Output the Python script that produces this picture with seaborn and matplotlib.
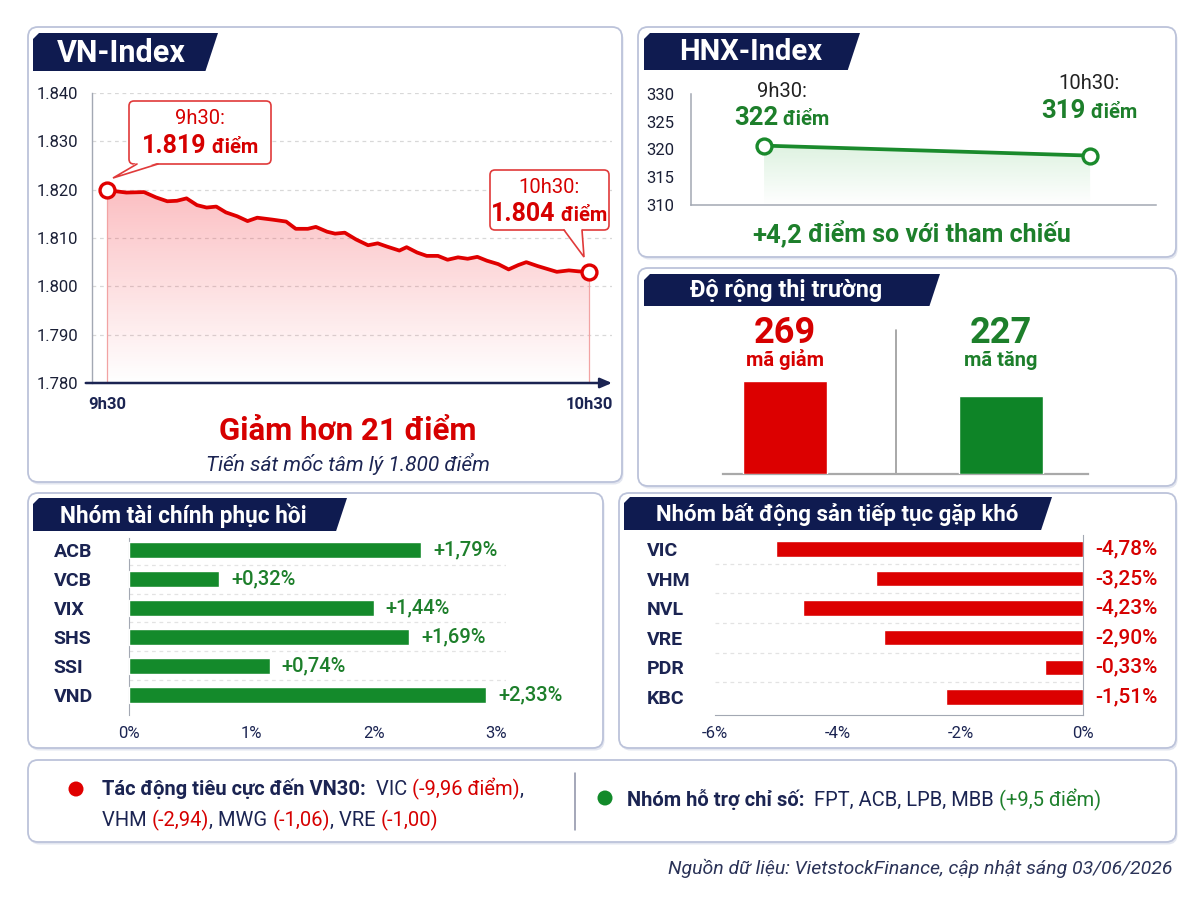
import numpy as np
import matplotlib
matplotlib.use("Agg")
import matplotlib.pyplot as plt
import seaborn as sns
from matplotlib.patches import FancyBboxPatch, Polygon, Circle
from matplotlib.ticker import FuncFormatter

# ---------------- data ----------------
vn_minutes = [0, 2.4, 4.6, 6.1, 7.5, 8.7, 9.9, 11.2, 12.4, 13.6, 14.8, 16.2, 17.5, 18.7, 20.6,
              22.3, 23.5, 25.0, 26.0, 27.4, 28.4, 29.6, 31.0, 32.5, 33.7, 34.9, 36.4, 37.3, 38.6,
              39.8, 41.2, 42.4, 43.7, 44.9, 46.1, 47.3, 48.7, 50.0, 51.2, 52.2, 53.6, 54.8, 56.0,
              57.5, 58.7, 60]
vn_values = [1819.9, 1819.4, 1819.5, 1818.4, 1817.6, 1817.7, 1818.2, 1816.8, 1816.3, 1816.5,
             1815.3, 1814.5, 1813.5, 1814.2, 1813.8, 1813.4, 1811.9, 1811.9, 1812.3, 1811.3,
             1810.9, 1811.1, 1809.7, 1808.5, 1808.9, 1808.2, 1807.4, 1808.1, 1807.0, 1806.3,
             1806.3, 1805.5, 1806.0, 1805.7, 1806.1, 1805.3, 1804.6, 1803.5, 1804.4, 1805.0,
             1804.2, 1803.6, 1803.0, 1803.3, 1803.1, 1803.0]
vn_ticks = [1780, 1790, 1800, 1810, 1820, 1830, 1840]
vn_time_labels = ["9h30", "10h30"]
vn_call_time = ["9h30:", "10h30:"]
vn_call_value = ["1.819", "1.804"]

hnx_pos = [0, 1]
hnx_values = [320.7, 318.9]
hnx_ticks = [310, 315, 320, 325, 330]
hnx_call_time = ["9h30:", "10h30:"]
hnx_call_value = ["322", "319"]

breadth_labels = ["mã giảm", "mã tăng"]
breadth_counts = [269, 227]

fin_codes = ["ACB", "VCB", "VIX", "SHS", "SSI", "VND"]
fin_bars = [2.39, 0.74, 2.00, 2.29, 1.15, 2.92]
fin_text = ["+1,79%", "+0,32%", "+1,44%", "+1,69%", "+0,74%", "+2,33%"]
fin_ticks = [0, 1, 2, 3]

re_codes = ["VIC", "VHM", "NVL", "VRE", "PDR", "KBC"]
re_bars = [-5.01, -3.37, -4.57, -3.24, -0.63, -2.23]
re_text = ["-4,78%", "-3,25%", "-4,23%", "-2,90%", "-0,33%", "-1,51%"]
re_ticks = [-6, -4, -2, 0]

# ---------------- style ----------------
NAVY = "#1b2452"
TAB = "#0f1b50"
RED = "#e00000"
RED_TXT = "#d60000"
GREEN = "#1a8a2c"
GREEN_TXT = "#1d7f2b"
GREY = "#a3a8b3"

sns.set_style("white")
plt.rcParams["font.family"] = ["Roboto", "DejaVu Sans"]

fig = plt.figure(figsize=(12, 9), dpi=100)
fig.patch.set_facecolor("white")
renderer = fig.canvas.get_renderer()

bg = fig.add_axes([0, 0, 1, 1], zorder=0)
bg.set_xlim(0, 1200); bg.set_ylim(900, 0); bg.axis("off")
fg = fig.add_axes([0, 0, 1, 1], zorder=10)
fg.set_xlim(0, 1200); fg.set_ylim(900, 0); fg.axis("off"); fg.set_facecolor("none")


def add_axes_px(x0, y0, x1, y1, z=2):
    ax = fig.add_axes([x0 / 1200, 1 - y1 / 900, (x1 - x0) / 1200, (y1 - y0) / 900], zorder=z)
    ax.set_facecolor("none")
    return ax


def panel(x0, y0, x1, y1):
    bg.add_patch(FancyBboxPatch((x0 + 1.5, y0 + 2.5), x1 - x0, y1 - y0,
                                boxstyle="round,pad=0,rounding_size=10", fc="#e3e6f0", ec="none", zorder=0))
    bg.add_patch(FancyBboxPatch((x0, y0), x1 - x0, y1 - y0,
                                boxstyle="round,pad=0,rounding_size=10", fc="white", ec="#bcc3da", lw=1.3, zorder=1))


def tab(x0, y0, x1, y1, text, tx, fs):
    sl = (y1 - y0) * 0.33
    bg.add_patch(Polygon([(x0, y0 + 6), (x0 + 6, y0), (x1, y0), (x1 - sl, y1), (x0, y1)],
                         closed=True, fc=TAB, ec="none", zorder=3))
    bg.text(tx, (y0 + y1) / 2 + 1, text, color="white", fontsize=fs, fontweight="bold",
            ha="left", va="center", zorder=4)


def rich(axo, x, y, pieces, ha="left", z=30):
    texts = []
    cx = x
    for s, kw in pieces:
        t = axo.text(cx, y, s, va="baseline", ha="left", zorder=z, **kw)
        cx += t.get_window_extent(renderer=renderer).width
        texts.append(t)
    if ha == "center":
        shift = (cx - x) / 2
        for t in texts:
            px, py = t.get_position()
            t.set_position((px - shift, py))
    return texts


# ---------------- panels ----------------
panel(28, 27, 622, 482)
panel(638, 27, 1176, 257)
panel(638, 268, 1176, 486)
panel(28, 493, 603, 748)
panel(619, 493, 1176, 748)
panel(28, 760, 1176, 842)

tab(33, 33, 218, 71, "VN-Index", 57, 22)
tab(644, 33, 860, 70, "HNX-Index", 679, 21)
tab(644, 274, 940, 306, "Độ rộng thị trường", 690, 16.8)
tab(33, 498, 347, 531, "Nhóm tài chính phục hồi", 60, 16.3)
tab(624, 497, 1052, 530, "Nhóm bất động sản tiếp tục gặp khó", 656, 16)

# ---------------- VN-Index ----------------
ax1 = add_axes_px(92, 93, 612, 383)
sns.lineplot(x=vn_minutes, y=vn_values, ax=ax1, color=RED, lw=2.7, zorder=5)
fill = ax1.fill_between(vn_minutes, vn_values, vn_ticks[0], color="none", lw=0)
grad = np.zeros((256, 1, 4))
grad[..., 0] = 0.96; grad[..., 1] = 0.22; grad[..., 2] = 0.26
grad[:, 0, 3] = np.linspace(0.0, 0.32, 256)
im = ax1.imshow(grad, extent=[vn_minutes[0], vn_minutes[-1], vn_ticks[0], max(vn_values)],
                origin="lower", aspect="auto", zorder=2, interpolation="bilinear")
im.set_clip_path(fill.get_paths()[0], transform=ax1.transData)
ax1.vlines([vn_minutes[0], vn_minutes[-1]], vn_ticks[0], [vn_values[0], vn_values[-1]],
           color="#f2a3a3", lw=0.9, zorder=3)
ax1.scatter([vn_minutes[0], vn_minutes[-1]], [vn_values[0], vn_values[-1]], s=115,
            facecolor="white", edgecolor=RED, lw=2.4, zorder=6)
ax1.set_xlim(-1.87, 62.87)
ax1.set_ylim(vn_ticks[0], vn_ticks[-1])
ax1.set_yticks(vn_ticks)
ax1.yaxis.set_major_formatter(FuncFormatter(lambda v, p: f"{v / 1000:.3f}"))
ax1.set_xticks([vn_minutes[0], vn_minutes[-1]])
ax1.set_xticklabels(vn_time_labels, fontweight="bold")
ax1.grid(axis="y", ls=(0, (3, 3)), color="#d8d8d8", lw=0.9)
ax1.grid(axis="x", visible=False)
ax1.set_axisbelow(True)
for s in ["top", "right", "bottom"]:
    ax1.spines[s].set_visible(False)
ax1.spines["left"].set_color(GREY)
ax1.spines["left"].set_linewidth(1.0)
ax1.tick_params(axis="y", length=0, pad=10, labelsize=12, labelcolor="#1a1f36")
ax1.tick_params(axis="x", length=0, pad=10, labelsize=12, labelcolor=NAVY)
ax1.annotate("", xy=(1.0, 0), xytext=(-0.012, 0), xycoords="axes fraction",
             arrowprops=dict(arrowstyle="-|>,head_length=0.7,head_width=0.3", color=NAVY, lw=1.8,
                             shrinkA=0, shrinkB=0), annotation_clip=False)


def callout(x0, y0, x1, y1, a, b, tip):
    fg.add_patch(FancyBboxPatch((x0, y0), x1 - x0, y1 - y0, boxstyle="round,pad=0,rounding_size=5",
                                fc="white", ec="#e03a3a", lw=1.2, zorder=20))
    fg.add_patch(Polygon([(a[0], a[1] - 1.5), tip, (b[0], b[1] - 1.5)], closed=True, fc="white",
                         ec="none", zorder=21))
    fg.plot([a[0], tip[0], b[0]], [a[1], tip[1], b[1]], color="#e03a3a", lw=1.2, zorder=22,
            solid_joinstyle="miter")


callout(129, 101, 271, 164, (137, 164), (158, 164), (113, 178))
callout(490, 170, 609, 230, (564, 230), (582, 230), (584, 257))
for cx, yb1, yb2, tlabel, val in [(200, 124, 153, vn_call_time[0], vn_call_value[0]),
                                  (549, 193, 221, vn_call_time[1], vn_call_value[1])]:
    fg.text(cx, yb1, tlabel, ha="center", va="baseline", color=RED_TXT, fontsize=14.5, zorder=30)
    rich(fg, cx, yb2, [(val, dict(color=RED_TXT, fontsize=18, fontweight="bold")),
                       (" điểm", dict(color=RED_TXT, fontsize=14.5, fontweight="bold"))], ha="center")

bg.text(348, 440, "Giảm hơn 21 điểm", ha="center", va="baseline", color=RED_TXT,
        fontsize=22.5, fontweight="bold", zorder=5)
bg.text(348, 471, "Tiến sát mốc tâm lý 1.800 điểm", ha="center", va="baseline", color=NAVY,
        fontsize=15, style="italic", zorder=5)

# ---------------- HNX-Index ----------------
ax2 = add_axes_px(691, 94, 1156, 205)
sns.lineplot(x=hnx_pos, y=hnx_values, ax=ax2, color=GREEN, lw=2.7, zorder=5)
fill2 = ax2.fill_between(hnx_pos, hnx_values, hnx_ticks[0], color="none", lw=0)
grad2 = np.zeros((256, 1, 4))
grad2[..., 0] = 0.35; grad2[..., 1] = 0.75; grad2[..., 2] = 0.4
grad2[:, 0, 3] = np.linspace(0.0, 0.2, 256)
im2 = ax2.imshow(grad2, extent=[hnx_pos[0], hnx_pos[-1], hnx_ticks[0], max(hnx_values)],
                 origin="lower", aspect="auto", zorder=2, interpolation="bilinear")
im2.set_clip_path(fill2.get_paths()[0], transform=ax2.transData)
ax2.scatter(hnx_pos, hnx_values, s=115, facecolor="white", edgecolor=GREEN, lw=2.4, zorder=6)
ax2.set_xlim(-0.224, 1.202)
ax2.set_ylim(hnx_ticks[0], hnx_ticks[-1])
ax2.set_yticks(hnx_ticks)
ax2.set_xticks([])
for s in ["top", "right"]:
    ax2.spines[s].set_visible(False)
for s in ["left", "bottom"]:
    ax2.spines[s].set_color(GREY)
    ax2.spines[s].set_linewidth(1.1)
ax2.tick_params(axis="y", length=0, pad=12, labelsize=12, labelcolor="#1a1f36")

for cx, yb1, yb2, tlabel, val in [(782, 97, 125, hnx_call_time[0], hnx_call_value[0]),
                                  (1089, 89, 118, hnx_call_time[1], hnx_call_value[1])]:
    fg.text(cx, yb1, tlabel, ha="center", va="baseline", color="#222222", fontsize=14.5, zorder=30)
    rich(fg, cx, yb2, [(val, dict(color=GREEN_TXT, fontsize=18.5, fontweight="bold")),
                       (" điểm", dict(color=GREEN_TXT, fontsize=14.5, fontweight="bold"))], ha="center")

rich(bg, 912, 242, [("+4,2", dict(color=GREEN_TXT, fontsize=18.5, fontweight="bold")),
                    (" điểm so với tham chiếu", dict(color=GREEN_TXT, fontsize=18, fontweight="semibold"))],
     ha="center", z=5)

# ---------------- Breadth ----------------
ax3 = add_axes_px(723, 370.3, 1088, 474)
sns.barplot(x=breadth_labels, y=breadth_counts, hue=breadth_labels, palette=["#dc0000", "#0e8427"],
            legend=False, width=0.39, saturation=1, ax=ax3, zorder=3)
ax3.set_xlim(-0.287, 1.403)
ax3.set_ylim(0, 300)
ax3.set_xticks([]); ax3.set_yticks([])
ax3.set_xlabel(""); ax3.set_ylabel("")
for s in ["top", "right", "left"]:
    ax3.spines[s].set_visible(False)
ax3.spines["bottom"].set_color("#a9a9a9")
ax3.spines["bottom"].set_linewidth(1.6)
bg.plot([896, 896], [330, 474], color="#9a9a9a", lw=1.2, zorder=3)
for cx, num, lab, col in [(785, breadth_counts[0], breadth_labels[0], RED_TXT),
                          (1001, breadth_counts[1], breadth_labels[1], GREEN_TXT)]:
    bg.text(cx, 343, str(num), ha="center", va="baseline", color=col, fontsize=26, fontweight="bold", zorder=5)
    bg.text(cx, 366, lab, ha="center", va="baseline", color=col, fontsize=14.5, fontweight="bold", zorder=5)

# ---------------- Finance ----------------
ax4 = add_axes_px(128.6, 538, 506, 715)
sns.barplot(x=fin_bars, y=fin_codes, orient="h", color="#148a2b", width=0.53, saturation=1, ax=ax4, zorder=3)
ax4.set_xlim(0, 3.08)
ax4.set_ylim(5.69, -0.414)
ax4.hlines([i + 0.5 for i in range(len(fin_codes) - 1)], 0, 3.08, colors="#e3e3e3",
           linestyles=(0, (3, 3)), lw=0.9, zorder=1)
ax4.set_xticks(fin_ticks)
ax4.set_xticklabels([f"{t}%" for t in fin_ticks])
ax4.set_xlabel(""); ax4.set_ylabel("")
for s in ["top", "right", "bottom"]:
    ax4.spines[s].set_visible(False)
ax4.spines["left"].set_color(GREY)
ax4.tick_params(axis="x", length=0, pad=8, labelsize=12, labelcolor=NAVY)
ax4.tick_params(axis="y", length=0, pad=54, labelsize=14, labelcolor=NAVY)
for lbl in ax4.get_yticklabels():
    lbl.set_ha("left"); lbl.set_fontweight("bold")
for i, (v, s) in enumerate(zip(fin_bars, fin_text)):
    ax4.annotate(s, (v, i), xytext=(8.5, 0), textcoords="offset points", va="center", ha="left",
                 color=GREEN_TXT, fontsize=14.5, fontweight="medium", annotation_clip=False)

# ---------------- Real estate ----------------
ax5 = add_axes_px(714.9, 535, 1083.3, 715)
sns.barplot(x=re_bars, y=re_codes, orient="h", color="#dc0000", width=0.52, saturation=1, ax=ax5, zorder=3)
ax5.set_xlim(-6, 0)
ax5.set_ylim(5.61, -0.47)
ax5.hlines([i + 0.5 for i in range(len(re_codes) - 1)], -6, 0, colors="#e3e3e3",
           linestyles=(0, (3, 3)), lw=0.9, zorder=1)
ax5.set_xticks(re_ticks)
ax5.set_xticklabels([f"{t}%" for t in re_ticks])
ax5.set_xlabel(""); ax5.set_ylabel("")
for s in ["top", "left"]:
    ax5.spines[s].set_visible(False)
for s in ["right", "bottom"]:
    ax5.spines[s].set_color(GREY)
ax5.tick_params(axis="x", length=0, pad=8, labelsize=12, labelcolor=NAVY)
ax5.tick_params(axis="y", length=0, pad=49, labelsize=14, labelcolor=NAVY)
for lbl in ax5.get_yticklabels():
    lbl.set_ha("left"); lbl.set_fontweight("bold")
for i, s in enumerate(re_text):
    ax5.annotate(s, (0, i), xytext=(8.6, 0), textcoords="offset points", va="center", ha="left",
                 color=RED_TXT, fontsize=15, fontweight="medium", annotation_clip=False)

# ---------------- Footer ----------------
bg.add_patch(Circle((76, 789), 7.5, fc="#e00000", ec="none", zorder=5))
bg.add_patch(Circle((605, 798), 7.5, fc="#128a2a", ec="none", zorder=5))
bg.plot([575, 575], [773, 830], color="#8b90a6", lw=1.1, zorder=5)
norm = dict(color=NAVY, fontsize=14.5)
bold = dict(color=NAVY, fontsize=14.5, fontweight="bold")
red = dict(color=RED_TXT, fontsize=14.5)
grn = dict(color=GREEN_TXT, fontsize=14.5)
rich(bg, 102, 795, [("Tác động tiêu cực đến VN30:", bold), ("  VIC ", norm),
                    ("(-9,96 điểm)", red), (",", norm)], z=6)
rich(bg, 102, 826, [("VHM ", norm), ("(-2,94)", red), (", MWG ", norm), ("(-1,06)", red),
                    (", VRE ", norm), ("(-1,00)", red)], z=6)
rich(bg, 627, 806, [("Nhóm hỗ trợ chỉ số:", bold), ("  FPT, ACB, LPB, MBB ", norm),
                    ("(+9,5 điểm)", grn)], z=6)

bg.text(1172, 874, "Nguồn dữ liệu: VietstockFinance, cập nhật sáng 03/06/2026", ha="right",
        va="baseline", color="#2b3358", fontsize=14, style="italic", zorder=5)

fig.savefig("out.png", dpi=100, facecolor="white")
